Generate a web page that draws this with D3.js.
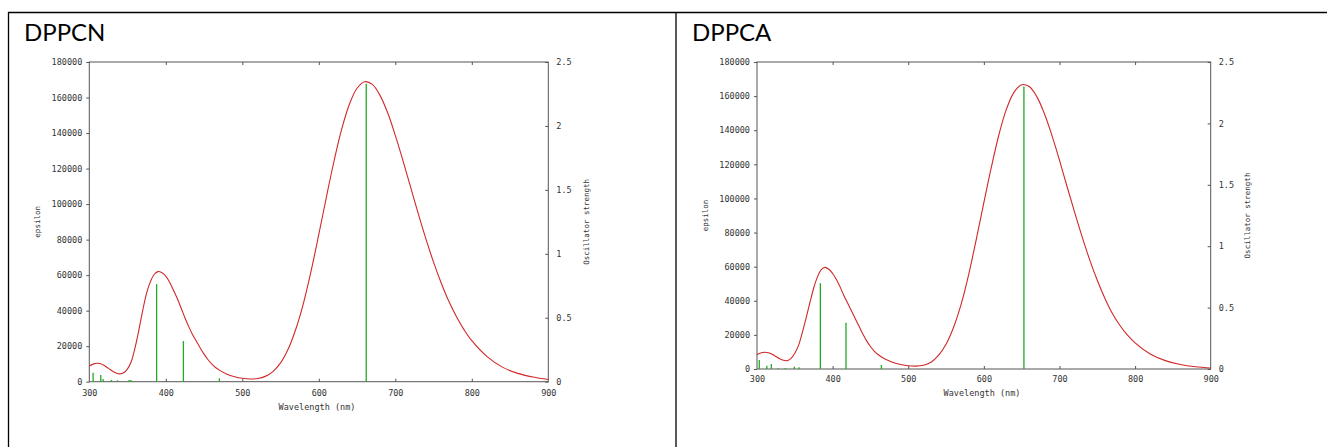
<!DOCTYPE html>
<html>
<head>
<meta charset="utf-8">
<script src="https://cdn.jsdelivr.net/npm/d3@7"></script>
<style>
  body { margin: 0; background: #fff; }
  svg { display: block; }
  .tick text { font-family: "DejaVu Sans Mono", monospace; font-size: 8.5px; fill: #333; }
  .tick line { stroke: #555; }
  .lab { font-family: "DejaVu Sans Mono", monospace; fill: #333; }
  .title { font-family: Lato, "Open Sans", sans-serif; font-size: 24px; fill: #000; }
</style>
</head>
<body>
<div id="chart"></div>
<script>
// wavelength grid (nm) shared by both spectra
const wavelengths = [300, 305, 310, 315, 320, 325, 330, 335, 340, 345, 350, 355, 360, 365, 370, 375, 380, 385, 390, 395,
  400, 405, 410, 415, 420, 425, 430, 435, 440, 445, 450, 455, 460, 465, 470,
  480, 490, 500, 510, 520, 530, 540, 550, 560, 570, 580, 590, 600, 610, 620, 630, 640, 650, 660, 670, 680, 690, 700,
  710, 720, 730, 740, 750, 760, 770, 780, 790, 800, 820, 840, 860, 880, 900];

// epsilon
const dppcnEps = [8800, 9900, 10400, 10100, 9000, 7500, 6000, 4900, 4400, 5000, 7200, 11500, 19500, 29500, 40500, 50000, 56500, 60500, 62000, 61300,
  59500, 56000, 51500, 46800, 41500, 36000, 31000, 26500, 22800, 19000, 15500, 12500, 10000, 8000, 6500,
  4200, 2800, 1900, 1500, 1800, 3000, 5700, 10600, 18400, 29700, 44300, 62500, 82900, 104100, 124400, 142300, 156200, 165200, 168900, 167400, 161200, 151400, 138700,
  124500, 109500, 94600, 80400, 67300, 55600, 45300, 36600, 29200, 23100, 14100, 8200, 4700, 2600, 1200];

// epsilon
const dppcaEps = [8500, 9400, 9800, 9500, 8600, 7300, 6000, 5100, 4900, 6200, 9200, 14000, 21500, 30000, 39000, 47500, 54000, 58300, 59600, 58500,
  56000, 52500, 48000, 43000, 38500, 34000, 29500, 25000, 20500, 16500, 13200, 10500, 8500, 7000, 5700,
  3800, 2600, 1900, 1700, 2200, 4000, 8000, 14500, 24500, 38000, 55500, 76000, 97500, 118500, 137500, 152500, 162300, 166700, 165600, 159700, 149800, 137000, 122500,
  107000, 92000, 77500, 64000, 52000, 41500, 32500, 25500, 19800, 15300, 8800, 4900, 2600, 1300, 600];

// oscillator strength sticks
const dppcnStickWl = [305, 315, 318, 329, 337, 352, 354.5, 388, 423, 470, 662];
const dppcnStickF  = [0.070, 0.052, 0.021, 0.013, 0.011, 0.013, 0.013, 0.763, 0.318, 0.027, 2.33];
const dppcaStickWl = [303, 313, 319, 328, 337.5, 349.4, 355.6, 383.8, 417.7, 464.5, 653];
const dppcaStickF  = [0.073, 0.027, 0.041, 0.006, 0.008, 0.019, 0.014, 0.698, 0.377, 0.033, 2.30];

const xTicks = [300, 400, 500, 600, 700, 800, 900];
const epsTicks = [0, 20000, 40000, 60000, 80000, 100000, 120000, 140000, 160000, 180000];
const oscTicks = [0, 0.5, 1, 1.5, 2, 2.5];

const W = 1327, H = 447;
const svg = d3.select("#chart").append("svg").attr("width", W).attr("height", H);

// table borders
svg.append("line").attr("x1", 8).attr("x2", W).attr("y1", 12.5).attr("y2", 12.5).attr("stroke", "#000").attr("stroke-width", 1.3);
svg.append("line").attr("x1", 8.5).attr("x2", 8.5).attr("y1", 12).attr("y2", H).attr("stroke", "#000").attr("stroke-width", 1.3);
svg.append("line").attr("x1", 676).attr("x2", 676).attr("y1", 12).attr("y2", H).attr("stroke", "#000").attr("stroke-width", 1.3);

function drawPanel(p) {
  svg.append("text").attr("class", "title").attr("x", p.titleX).attr("y", 41).text(p.title);

  let x = d3.scaleLinear().domain([300, 900]).range([p.left, p.right]);
  let y = d3.scaleLinear().domain([0, 180000]).range([p.bottom, p.top]);
  let y2 = d3.scaleLinear().domain([0, 2.5]).range([p.bottom, p.top]);

  let g = svg.append("g");

  // frame
  g.append("rect")
    .attr("x", p.left).attr("y", p.top)
    .attr("width", p.right - p.left).attr("height", p.bottom - p.top)
    .attr("fill", "none").attr("stroke", "#555").attr("stroke-width", 1);

  // left axis (ticks outside)
  let yAxis = d3.axisLeft(y).tickValues(epsTicks).tickSize(3).tickPadding(4).tickFormat(d3.format("d"));
  g.append("g").attr("transform", "translate(" + p.left + ",0)").call(yAxis)
    .call(a => a.select(".domain").remove());

  // right axis (ticks inside)
  let y2Axis = d3.axisRight(y2).tickValues(oscTicks).tickSize(-3).tickPadding(8).tickFormat(d => d);
  g.append("g").attr("transform", "translate(" + p.right + ",0)").call(y2Axis)
    .call(a => a.select(".domain").remove());

  // bottom axis (ticks inside)
  let xAxis = d3.axisBottom(x).tickValues(xTicks).tickSize(-3).tickFormat(d => d);
  g.append("g").attr("transform", "translate(0," + p.bottom + ")").call(xAxis)
    .call(a => a.select(".domain").remove())
    .call(a => a.selectAll("text").attr("y", p.xLabOff).attr("dy", "0.35em"))
    .call(a => a.selectAll(".tick line").filter(d => d === 300 || d === 900).remove());

  // mirrored ticks on top
  g.append("g").attr("transform", "translate(0," + p.top + ")")
    .call(d3.axisTop(x).tickValues(xTicks.slice(1, -1)).tickSize(-3).tickFormat(""))
    .call(a => a.select(".domain").remove());

  // axis titles
  g.append("text").attr("class", "lab").attr("font-size", 8.5).attr("text-anchor", "middle")
    .attr("x", p.xTitleX).attr("y", p.xTitleY).attr("dy", "0.35em").text("Wavelength (nm)");
  g.append("text").attr("class", "lab").attr("font-size", 7.5).attr("text-anchor", "middle")
    .attr("transform", "translate(" + p.epsX + "," + (p.top + p.bottom) / 2 + ") rotate(-90)")
    .attr("dy", "0.35em").text("epsilon");
  g.append("text").attr("class", "lab").attr("font-size", 7.5).attr("text-anchor", "middle")
    .attr("transform", "translate(" + p.oscX + "," + (p.top + p.bottom) / 2 + ") rotate(-90)")
    .attr("dy", "0.35em").text("Oscillator strength");

  // sticks
  g.selectAll(".stick").data(p.stickWl.map((w, i) => ({w: w, f: p.stickF[i]})))
    .enter().append("line")
    .attr("class", "stick")
    .attr("x1", d => x(d.w)).attr("x2", d => x(d.w))
    .attr("y1", y2(0)).attr("y2", d => y2(d.f))
    .attr("stroke", "#22aa22").attr("stroke-width", 1.3);

  // spectrum
  let line = d3.line()
    .curve(d3.curveCatmullRom.alpha(0.5))
    .x((d, i) => x(wavelengths[i]))
    .y(d => y(d));
  g.append("path").datum(p.eps)
    .attr("d", line)
    .attr("fill", "none").attr("stroke", "#d02828").attr("stroke-width", 1.1);
}

drawPanel({
  title: "DPPCN", titleX: 24,
  left: 89.3, right: 548.3, top: 62, bottom: 381.7,
  xLabOff: 11.3, xTitleX: 317, xTitleY: 407,
  epsX: 37, oscX: 586,
  eps: dppcnEps, stickWl: dppcnStickWl, stickF: dppcnStickF
});

drawPanel({
  title: "DPPCA", titleX: 692,
  left: 757, right: 1210.7, top: 62, bottom: 369,
  xLabOff: 10.3, xTitleX: 982, xTitleY: 393,
  epsX: 705, oscX: 1247,
  eps: dppcaEps, stickWl: dppcaStickWl, stickF: dppcaStickF
});
</script>
</body>
</html>
